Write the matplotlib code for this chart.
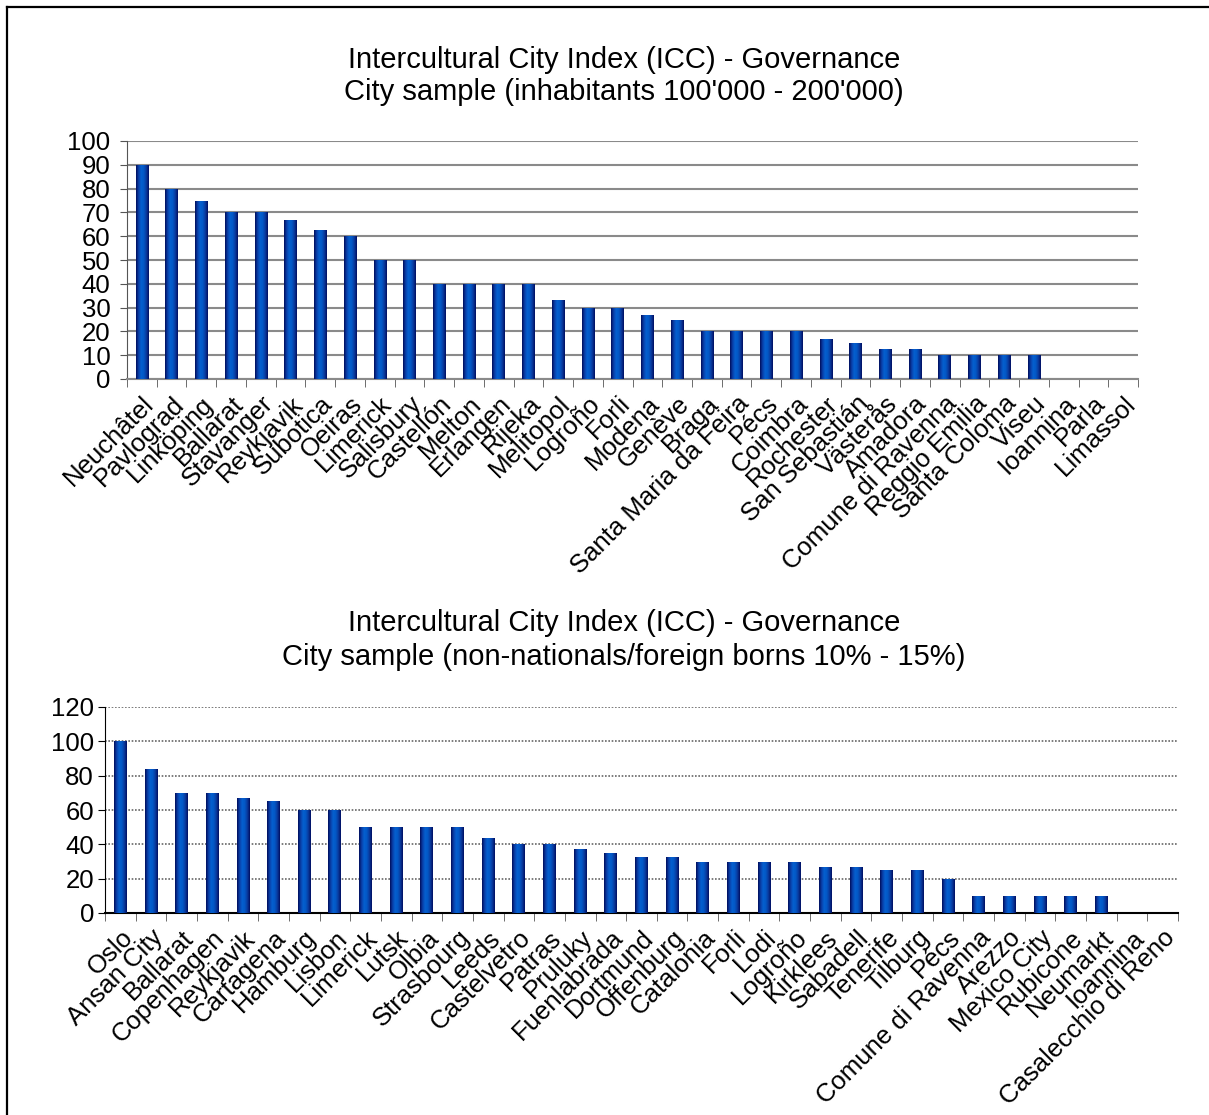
import numpy as np
import matplotlib
matplotlib.use("Agg")
import matplotlib.pyplot as plt
from matplotlib.colors import LinearSegmentedColormap
from matplotlib.lines import Line2D

plt.rcParams['font.family'] = ['Liberation Sans', 'DejaVu Sans']

# --- data: city sample by size (100'000 - 200'000 inhabitants)
cities_size = ["Neuchâtel", "Pavlograd", "Linköping", "Ballarat", "Stavanger", "Reykjavik",
               "Subotica", "Oeiras", "Limerick", "Salisbury", "Castellón", "Melton", "Erlangen",
               "Rijeka", "Melitopol", "Logroño", "Forli", "Modena", "Genève", "Braga",
               "Santa Maria da Feira", "Pécs", "Coimbra", "Rochester", "San Sebastián",
               "Västerås", "Amadora", "Comune di Ravenna", "Reggio Emilia", "Santa Coloma",
               "Viseu", "Ioannina", "Parla", "Limassol"]
scores_size = [90, 80, 75, 70, 70, 66.7, 62.5, 60, 50, 50, 40, 40, 40, 40, 33.3, 30, 30,
               26.7, 25, 20, 20, 20, 20, 16.7, 15, 12.5, 12.5, 10, 10, 10, 10, 0, 0, 0]

# --- data: city sample by share of non-nationals (10% - 15%)
cities_foreign = ["Oslo", "Ansan City", "Ballarat", "Copenhagen", "Reykjavik", "Cartagena",
                  "Hamburg", "Lisbon", "Limerick", "Lutsk", "Olbia", "Strasbourg", "Leeds",
                  "Castelvetro", "Patras", "Pruluky", "Fuenlabrada", "Dortmund", "Offenburg",
                  "Catalonia", "Forli", "Lodi", "Logroño", "Kirklees", "Sabadell", "Tenerife",
                  "Tilburg", "Pécs", "Comune di Ravenna", "Arezzo", "Mexico City", "Rubicone",
                  "Neumarkt", "Ioannina", "Casalecchio di Reno"]
scores_foreign = [100, 83.75, 70, 70, 66.7, 65, 60, 60, 50, 50, 50, 50, 43.75, 40, 40, 37.5,
                  35, 32.5, 32.5, 30, 30, 30, 30, 26.7, 26.7, 25, 25, 20, 10, 10, 10, 10, 10,
                  0, 0]

W, H = 1209, 1115
fig = plt.figure(figsize=(W / 100, H / 100), dpi=100)

bar_cmap = LinearSegmentedColormap.from_list(
    "barshade", ["#000d5c", "#0a3fa8", "#0560cf", "#0358c6", "#0a3a9e", "#000f62"])
grad = np.linspace(0, 1, 64).reshape(1, -1)
TICK_FS = 18.5
TITLE_FS = 21


def shaded_bars(ax, names, values, width):
    x = np.arange(len(names))
    bars = ax.bar(x, values, width=width, color="#0050c0", zorder=3)
    for b in bars:
        if b.get_height() <= 0:
            continue
        im = ax.imshow(grad, cmap=bar_cmap, aspect="auto", zorder=4,
                       extent=[b.get_x(), b.get_x() + b.get_width(), 0, b.get_height()])
        im.set_clip_path(b)
    ax.set_xlim(-0.5, len(names) - 0.5)
    # category boundaries carry the tick marks, centres carry the names
    ax.set_xticks(np.arange(len(names) + 1) - 0.5, minor=True)
    ax.set_xticks(x)
    ax.set_xticklabels(names, rotation=45, ha="right", va="top",
                       rotation_mode="anchor", fontsize=TICK_FS)
    ax.tick_params(axis="x", which="major", length=0, pad=9)
    ax.tick_params(axis="y", labelsize=TICK_FS)
    for s in ("top", "right"):
        ax.spines[s].set_visible(False)


# top chart
ax1 = fig.add_axes([127 / W, 1 - 379 / H, (1138 - 127) / W, (379 - 141) / H])
shaded_bars(ax1, cities_size, scores_size, 0.42)
ax1.set_ylim(0, 100)
ax1.set_yticks(np.arange(0, 101, 10))
ax1.yaxis.grid(True, color="#8a8a8a", linewidth=1.5, zorder=1)
ax1.set_axisbelow(True)
ax1.spines["left"].set_color("#555555")
ax1.spines["bottom"].set_color("#8a8a8a")
ax1.spines["bottom"].set_linewidth(1.5)
ax1.tick_params(axis="y", length=5, color="#555555", pad=7)
ax1.tick_params(axis="x", which="minor", length=6, color="#555555")

# bottom chart
ax2 = fig.add_axes([105 / W, 1 - 913 / H, (1178 - 105) / W, (913 - 707) / H])
shaded_bars(ax2, cities_foreign, scores_foreign, 0.42)
ax2.set_ylim(0, 120)
ax2.set_yticks(np.arange(0, 121, 20))
ax2.yaxis.grid(True, color="#666666", linewidth=1.2, linestyle=(0, (1, 1)), zorder=1)
ax2.set_axisbelow(True)
ax2.spines["left"].set_color("black")
ax2.spines["bottom"].set_color("black")
ax2.spines["bottom"].set_linewidth(1.5)
ax2.tick_params(axis="y", length=5, color="black", pad=3)
ax2.tick_params(axis="x", which="minor", length=6, color="#555555")

# titles
tx = 624 / W
fig.text(tx, 1 - 60 / H, "Intercultural City Index (ICC) - Governance",
         ha="center", va="center", fontsize=TITLE_FS)
fig.text(tx, 1 - 92 / H, "City sample (inhabitants 100'000 - 200'000)",
         ha="center", va="center", fontsize=TITLE_FS)
fig.text(tx, 1 - 623 / H, "Intercultural City Index (ICC) - Governance",
         ha="center", va="center", fontsize=TITLE_FS)
fig.text(tx, 1 - 657 / H, "City sample (non-nationals/foreign borns 10% - 15%)",
         ha="center", va="center", fontsize=TITLE_FS)

# frame along the left and top edges
fig.add_artist(Line2D([7 / W, 7 / W], [0, 1 - 7 / H], color="black", linewidth=1.6,
                      transform=fig.transFigure))
fig.add_artist(Line2D([7 / W, 1], [1 - 7 / H, 1 - 7 / H], color="black", linewidth=1.6,
                      transform=fig.transFigure))

fig.savefig("out.png", dpi=100)
